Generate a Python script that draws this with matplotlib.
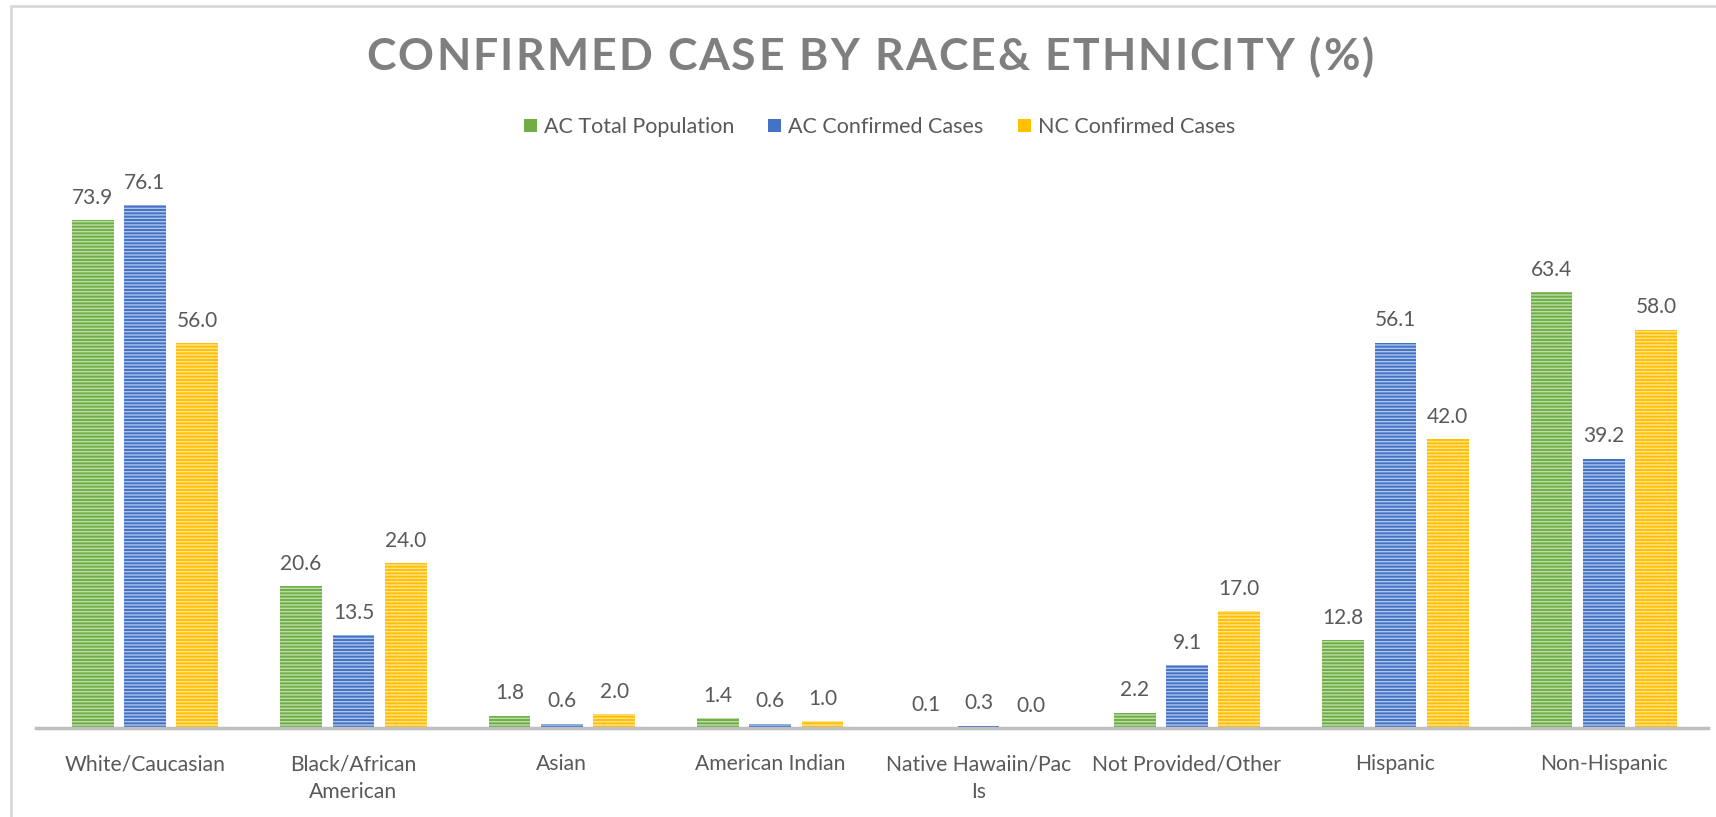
import matplotlib
matplotlib.use("Agg")
import matplotlib.pyplot as plt
from matplotlib.patches import Rectangle
import numpy as np

categories = ["White/Caucasian", "Black/African\nAmerican", "Asian", "American Indian",
              "Native Hawaiin/Pac\nIs", "Not Provided/Other", "Hispanic", "Non-Hispanic"]
ac_total_pop = [73.9, 20.6, 1.8, 1.4, 0.1, 2.2, 12.8, 63.4]
ac_confirmed = [76.1, 13.5, 0.6, 0.6, 0.3, 9.1, 56.1, 39.2]
nc_confirmed = [56.0, 24.0, 2.0, 1.0, 0.0, 17.0, 42.0, 58.0]
series_names = ["AC Total Population", "AC Confirmed Cases", "NC Confirmed Cases"]
title = "CONFIRMED CASE BY RACE& ETHNICITY (%)"

colors = ["#70AD47", "#4472C4", "#FFC000"]
stripe_colors = ["#BCDDA8", "#AFC5EC", "#FFE393"]
text_gray = "#595959"

plt.rcParams["font.family"] = ["Lato", "DejaVu Sans"]
plt.rcParams["hatch.linewidth"] = 1.0

W, H = 1716, 817
fig = plt.figure(figsize=(W / 100, H / 100), dpi=100)
ax = fig.add_axes([36 / W, 89 / H, 1672 / W, 0.6727])

x = np.arange(len(categories))
width = 0.2
offsets = [-0.251, 0.0, 0.251]
all_series = [ac_total_pop, ac_confirmed, nc_confirmed]

handles = []
for vals, off, col, scol, name in zip(all_series, offsets, colors, stripe_colors, series_names):
    bars = ax.bar(x + off, vals, width, color=col, linewidth=0, label=name)
    ax.bar(x + off, vals, width, fill=False, hatch="-----", edgecolor=scol, linewidth=0)
    handles.append(bars)
    for xi, v in zip(x + off, vals):
        ax.annotate(f"{v:.1f}", (xi, v), xytext=(0, 9), textcoords="offset points",
                    ha="center", va="bottom", fontsize=15, color=text_gray,
                    annotation_clip=False)

ax.set_xlim(-0.523, 7.5)
ax.set_ylim(0, 80)
ax.set_yticks([])
ax.set_xticks(x)
ax.set_xticklabels(categories, fontsize=15.2, color=text_gray, linespacing=1.45)
ax.tick_params(axis="x", length=0, pad=19)
for s in ["top", "right", "left"]:
    ax.spines[s].set_visible(False)
ax.spines["bottom"].set_color("#BFBFBF")
ax.spines["bottom"].set_linewidth(2.5)

# title with a little letter spacing, placed char by char
renderer = fig.canvas.get_renderer()
tprops = dict(fontsize=32, fontweight="bold", color="#7F7F7F", va="center")
def ink_width(s):
    t = fig.text(0, 0, s, **tprops)
    w = t.get_window_extent(renderer).width
    t.remove()
    return w
spacing = 2.1
total = ink_width(title) + (len(title) - 1) * spacing
x0 = 870 - total / 2
for i, ch in enumerate(title):
    if ch == " ":
        continue
    xr = x0 + ink_width(title[:i + 1]) + i * spacing
    fig.text(xr / W, 1 - 57 / H, ch, ha="right", **tprops)

fig.legend(handles, series_names, loc="center", bbox_to_anchor=(879.5 / W, 1 - 127 / H),
           ncol=3, frameon=False, fontsize=15.5, labelcolor=text_gray,
           handlelength=0.6, handleheight=0.6, handletextpad=0.33, columnspacing=1.6)

fig.patches.append(Rectangle((11 / W, -0.1), 1.2, 1 - 6 / H + 0.1, transform=fig.transFigure,
                             fill=False, edgecolor="#D9D9D9", linewidth=2))

fig.savefig("out.png", dpi=100)
